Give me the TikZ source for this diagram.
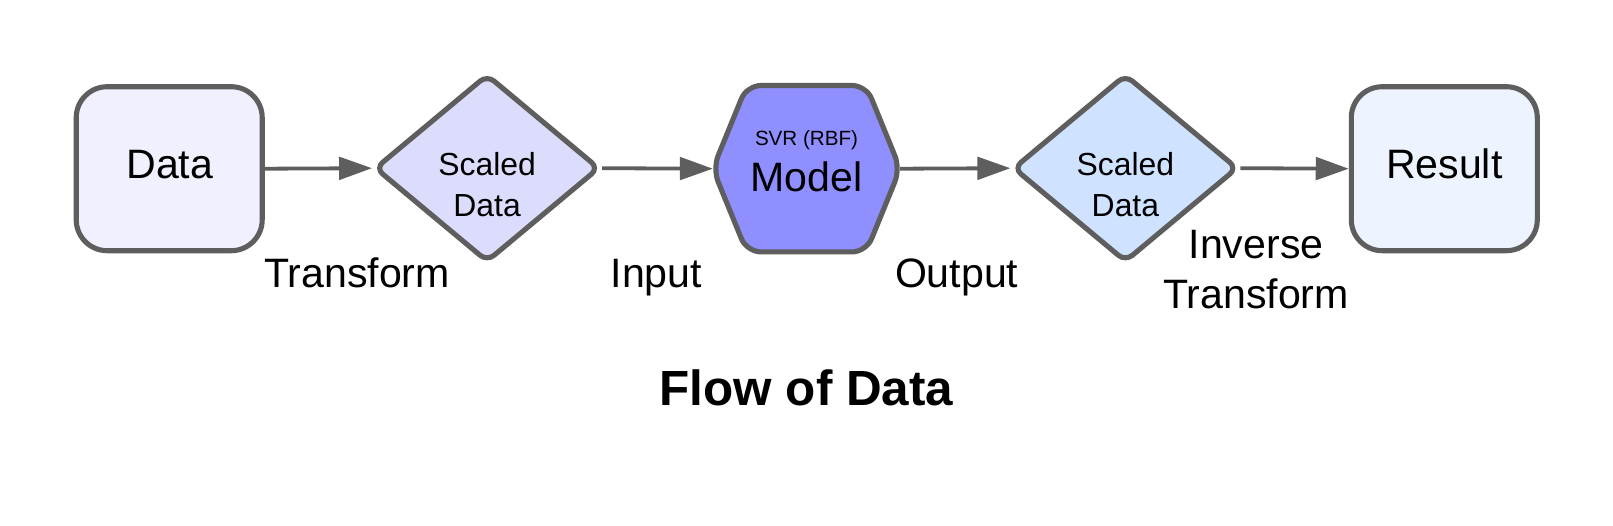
\documentclass[tikz,border=0pt]{standalone}
\usepackage{fontspec}
\setmainfont{Liberation Sans}
\usetikzlibrary{shapes.geometric,arrows.meta}
\definecolor{edge}{HTML}{5E5E5E}
\definecolor{fillA}{HTML}{F0F0FE}
\definecolor{fillB}{HTML}{DCDCFC}
\definecolor{fillC}{HTML}{8F8FFF}
\definecolor{fillD}{HTML}{CFE2FF}
\definecolor{fillE}{HTML}{EDF4FF}
\begin{document}
\begin{tikzpicture}[x=1.0287pt,y=-1.0287pt,
  box/.style={draw=edge, line width=5.1pt, rounded corners=31pt, minimum width=186pt, minimum height=164pt, inner sep=0pt},
  dia/.style={draw=edge, line width=5.1pt, diamond, rounded corners=9pt, minimum width=225pt, minimum height=188pt, inner sep=0pt},
  conn/.style={draw=edge, line width=3.8pt, -{Triangle[length=33pt,width=22.5pt]}},
  big/.style={font=\fontsize{41.1}{45}\selectfont, text=black, inner sep=0pt, anchor=base},
  mid/.style={font=\fontsize{31.9}{35}\selectfont, text=black, inner sep=0pt, anchor=base},
  small/.style={font=\fontsize{20.6}{24}\selectfont, text=black, inner sep=0pt, anchor=base},
]
\useasboundingbox (0,0) rectangle (1568,510.4);
\fill[white] (0,0) rectangle (1568,510.4);

% nodes
\node[box, fill=fillA] (data) at (164.5,164) {};
\node[dia, fill=fillB] (sd1) at (473.5,163.5) {};
\node[minimum width=187pt, minimum height=166pt, inner sep=0pt] (model) at (784,164) {};
\draw[draw=edge, fill=fillC, line width=5.1pt, rounded corners=14pt]
  (model.west) -- ([xshift=34pt]model.north west) -- ([xshift=-34pt]model.north east)
  -- (model.east) -- ([xshift=-34pt]model.south east) -- ([xshift=34pt]model.south west) -- cycle;
\node[dia, fill=fillD] (sd2) at (1094,163.5) {};
\node[box, fill=fillE] (result) at (1404,164) {};

% texts in shapes
\node[big] (tdata) at (165,174) {Data};
\node[mid] (ts1a) at (473.5,171) {Scaled};
\node[mid] (ts1b) at (473.5,210) {Data};
\node[small] (tsvr) at (784,141) {SVR (RBF)};
\node[big] (tmodel) at (784,186) {Model};
\node[mid] (ts2a) at (1094,171) {Scaled};
\node[mid] (ts2b) at (1094,210) {Data};
\node[big] (tres) at (1404,174) {Result};

% connectors
\draw[conn] (data.east) -- (sd1.west);
\draw[conn] (sd1.east) -- (model.west);
\draw[conn] (model.east) -- (sd2.west);
\draw[conn] (sd2.east) -- (result.west);

% labels
\node[big] (l1) at (347,279) {Transform};
\node[big] (l2) at (638,279) {Input};
\node[big] (l3) at (930,279) {Output};
\node[big] (l4a) at (1221,251) {Inverse};
\node[big] (l4b) at (1221,300) {Transform};
\node[font=\fontsize{49.4}{53}\selectfont\bfseries, inner sep=0pt, anchor=base] (title) at (784,394) {Flow of Data};
\end{tikzpicture}
\end{document}
